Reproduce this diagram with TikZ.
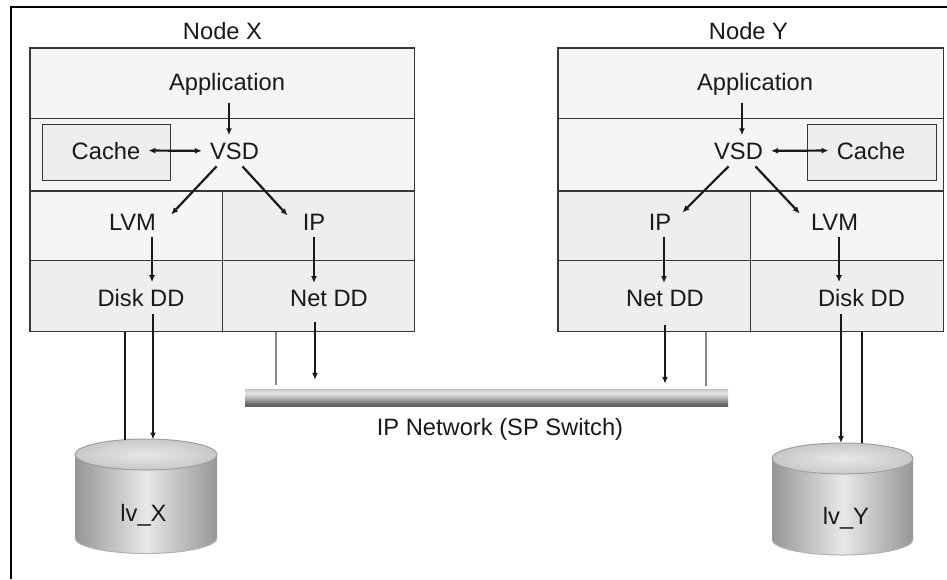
\documentclass[tikz,border=0pt]{standalone}
\usepackage{fontspec}
\setmainfont{Liberation Sans}
\usetikzlibrary{arrows.meta}
\definecolor{cell_light}{RGB}{245,245,245}
\definecolor{cell_dark}{RGB}{237,238,240}
\definecolor{edge_gray}{RGB}{55,55,55}
\definecolor{wire_gray}{RGB}{135,135,135}
\definecolor{bus_top}{RGB}{192,192,192}
\definecolor{bus_light}{RGB}{222,222,222}
\definecolor{bus_mid}{RGB}{160,160,160}
\definecolor{bus_dark}{RGB}{100,100,100}
\definecolor{cyl_side}{RGB}{150,150,150}
\definecolor{cyl_mid}{RGB}{232,232,232}
\definecolor{cyl_top}{RGB}{200,200,200}
\pgfdeclareverticalshading{bus_shade}{100bp}{color(0bp)=(bus_dark); color(25bp)=(bus_dark); color(30bp)=(bus_dark); color(44bp)=(bus_mid); color(60bp)=(bus_light); color(68bp)=(bus_light); color(75bp)=(bus_top); color(100bp)=(bus_top)}

\begin{document}
\begin{tikzpicture}[x=1pt,y=-1pt,>={Latex[length=7pt,width=6pt]}]
    \tikzstyle{cell}=[draw=edge_gray, line width=1pt, inner sep=0pt, minimum height=70pt]
    \tikzstyle{lbl}=[anchor=base, inner xsep=8pt, inner ysep=7pt, font=\fontsize{23.7}{28}\selectfont, text=black!90]
    \tikzstyle{arr}=[->, line width=2.2pt, black!90]
    \tikzstyle{wire}=[line width=2.2pt, black!90]
    \tikzstyle{gwire}=[line width=2pt, wire_gray]
    \tikzstyle{bus}=[shading=bus_shade, minimum width=483pt, minimum height=17pt, inner sep=0pt]

    \useasboundingbox (0,0) rectangle (947,579);
    \draw[line width=1.5pt] (11,579) -- (11,7) -- (947,7);

    % node X
    \node[cell, fill=cell_light, minimum width=384pt] (xApp) at (222,83) {};
    \node[cell, fill=cell_light, minimum width=384pt, minimum height=72pt] (xVsd) at (222,154) {};
    \node[cell, fill=cell_light, minimum width=192pt] (xLvm) at (126,225) {};
    \node[cell, fill=cell_dark, minimum width=192pt] (xIp) at (318,225) {};
    \node[cell, fill=cell_dark, minimum width=192pt, minimum height=71pt] (xDisk) at (126,295.5) {};
    \node[cell, fill=cell_dark, minimum width=192pt, minimum height=71pt] (xNet) at (318,295.5) {};
    \node[cell, fill=cell_dark, minimum width=128pt, minimum height=56pt] (xCache) at (106,152) {};
    \draw[line width=2pt, edge_gray] (xVsd.south west) -- (xVsd.south east);
    \draw[line width=1.5pt, edge_gray] (xApp.north west) rectangle (xNet.south east);

    \node[lbl] (labX)   at (222.5,39.5) {Node X};
    \node[lbl] (appX)   at (227,90.5)   {Application};
    \node[lbl] (vsdX)   at (234.5,159)  {VSD};
    \node[lbl] (cacheX) at (106,159)    {Cache};
    \node[lbl] (lvmX)   at (132.5,230)  {LVM};
    \node[lbl] (ipX)    at (314,230)    {IP};
    \node[lbl] (diskX)  at (141,306.5)  {Disk DD};
    \node[lbl] (netX)   at (329,306.5)  {Net DD};

    % node Y
    \node[cell, fill=cell_light, minimum width=385pt] (yApp) at (750.5,83) {};
    \node[cell, fill=cell_light, minimum width=385pt, minimum height=72pt] (yVsd) at (750.5,154) {};
    \node[cell, fill=cell_dark, minimum width=192pt] (yIp) at (654,225) {};
    \node[cell, fill=cell_light, minimum width=193pt] (yLvm) at (846.5,225) {};
    \node[cell, fill=cell_dark, minimum width=192pt, minimum height=71pt] (yNet) at (654,295.5) {};
    \node[cell, fill=cell_dark, minimum width=193pt, minimum height=71pt] (yDisk) at (846.5,295.5) {};
    \node[cell, fill=cell_dark, minimum width=129pt, minimum height=56pt] (yCache) at (871.5,152) {};
    \draw[line width=2pt, edge_gray] (yVsd.south west) -- (yVsd.south east);
    \draw[line width=1.5pt, edge_gray] (yApp.north west) rectangle (yDisk.south east);

    \node[lbl] (labY)   at (748.5,39.5) {Node Y};
    \node[lbl] (appY)   at (755,90.5)   {Application};
    \node[lbl] (vsdY)   at (738.5,159)  {VSD};
    \node[lbl] (cacheY) at (871,159)    {Cache};
    \node[lbl] (ipY)    at (660,230)    {IP};
    \node[lbl] (lvmY)   at (834.5,230)  {LVM};
    \node[lbl] (netY)   at (665,306.5)  {Net DD};
    \node[lbl] (diskY)  at (861.5,306.5) {Disk DD};

    % network and disks
    \node[bus] (bus) at (486.5,397.5) {};
    \node[lbl] (busLab) at (500,435) {IP Network (SP Switch)};

    \shade[left color=cyl_side, right color=cyl_side, middle color=cyl_mid] (75,454.5) -- (75,538) arc[start angle=180, end angle=360, x radius=71pt, y radius=15.5pt] -- (217,454.5) -- cycle;
    \draw[gray!60, line width=1pt] (75,538) arc[start angle=180, end angle=360, x radius=71pt, y radius=15.5pt];
    \shade[inner color=cyl_mid, outer color=cyl_top, draw=gray!75, line width=1pt] (146,454.5) ellipse [x radius=71pt, y radius=15.5pt];
    \coordinate (topX) at (146,439.5);
    \node[lbl] (lvX) at (143.5,521) {lv\_X};

    \shade[left color=cyl_side, right color=cyl_side, middle color=cyl_mid] (772,458.5) -- (772,539.5) arc[start angle=180, end angle=360, x radius=70.5pt, y radius=15.5pt] -- (913,458.5) -- cycle;
    \draw[gray!60, line width=1pt] (772,539.5) arc[start angle=180, end angle=360, x radius=70.5pt, y radius=15.5pt];
    \shade[inner color=cyl_mid, outer color=cyl_top, draw=gray!75, line width=1pt] (842.5,458.5) ellipse [x radius=70.5pt, y radius=15.5pt];
    \coordinate (topY) at (842.5,443);
    \node[lbl] (lvY) at (846,524) {lv\_Y};

    % connectors X
    \draw[arr] ([xshift=2]appX.south) -- ([xshift=2]appX.south |- vsdX.north);
    \draw[arr, <->] (cacheX.east) -- (vsdX.west);
    \draw[arr] ([xshift=-18]vsdX.south) -- ([xshift=7,yshift=-8]lvmX.north east);
    \draw[arr] ([xshift=8]vsdX.south) -- ([xshift=-7,yshift=-9]ipX.north west);
    \draw[arr] ([xshift=19.5]lvmX.south) -- ([xshift=19.5]lvmX.south |- diskX.north);
    \draw[arr] (ipX.south) -- (ipX.south |- netX.north);
    \draw[arr] ([xshift=12]diskX.south) -- ([xshift=12]diskX.south |- topX);
    \draw[wire] ([xshift=-1]xDisk.south) -- ([xshift=-1]xDisk.south |- topX);
    \draw[arr, shorten <=8pt, shorten >=9pt] ([xshift=-14]netX.south) -- ([xshift=-14]netX.south |- bus.north);
    \draw[gwire, shorten >=4pt] ([xshift=-42]xNet.south) -- ([xshift=-42]xNet.south |- bus.north);

    % connectors Y
    \draw[arr] ([xshift=-13]appY.south) -- ([xshift=-13]appY.south |- vsdY.north);
    \draw[arr, <->] (vsdY.east) -- (cacheY.west);
    \draw[arr] ([xshift=-10]vsdY.south) -- ([xshift=3,yshift=-6]ipY.north east);
    \draw[arr] ([xshift=17]vsdY.south) -- ([xshift=-3,yshift=-7]lvmY.north west);
    \draw[arr] ([xshift=4]ipY.south) -- ([xshift=4]ipY.south |- netY.north);
    \draw[arr] ([xshift=4.5]lvmY.south) -- ([xshift=4.5]lvmY.south |- diskY.north);
    \draw[arr, shorten <=11pt, shorten >=5pt] (netY.south) -- (netY.south |- bus.north);
    \draw[gwire, shorten >=3pt] ([xshift=52]yNet.south) -- ([xshift=52]yNet.south |- bus.north);
    \draw[arr] ([xshift=-20.5]diskY.south) -- ([xshift=-20.5]diskY.south |- topY);
    \draw[wire] ([xshift=15.5]yDisk.south) -- ([xshift=15.5]yDisk.south |- topY);
\end{tikzpicture}
\end{document}
